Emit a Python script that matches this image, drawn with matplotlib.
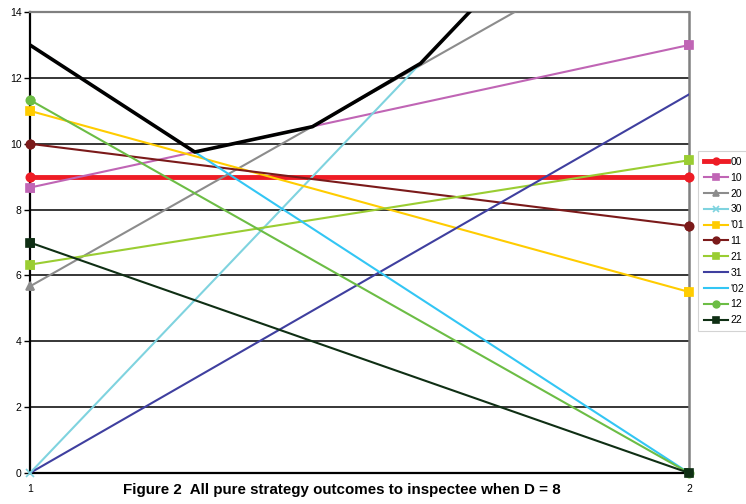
import matplotlib
matplotlib.use("Agg")
import matplotlib.pyplot as plt

plt.rcParams["font.family"] = ["Liberation Sans", "DejaVu Sans"]

# Outcome to the inspectee at the two ends of the strategy axis
X_ENDS = [1, 2]
LABELS = ["00", "10", "20", "30", "'01", "11", "21", "31", "'02", "12", "22"]
START = [9.0, 8.67, 5.67, 0.0, 11.0, 10.0, 6.33, 0.0, 13.0, 11.33, 7.0]
END = [9.0, 13.0, 17.0, 21.0, 5.5, 7.5, 9.5, 11.5, 0.0, 0.0, 0.0]

# Upper envelope (best response) vertices
ENV_X = [1.0, 1.25, 1.4286, 1.5926, 2.0]
ENV_Y = [13.0, 9.75, 10.52, 12.44, 21.0]

COLORS = ["#ee1c25", "#c065b5", "#8c8c8c", "#7fd3df", "#ffcc00", "#7b1a1a",
          "#9acd32", "#3f3f9f", "#33c6f4", "#6cbd45", "#0f2f14"]
MARKERS = ["o", "s", "^", "x", "s", "o", "s", None, None, "o", "s"]
WIDTHS = [3.5, 1.5, 1.5, 1.5, 1.5, 1.5, 1.5, 1.5, 1.5, 1.5, 1.5]

YMAX = 14

fig = plt.figure(figsize=(7.46, 5.04), dpi=100)
ax = fig.add_axes([0.0402, 0.0615, 0.8834, 0.9145])

for lab, y0, y1, c, m, w in zip(LABELS, START, END, COLORS, MARKERS, WIDTHS):
    ax.plot(X_ENDS, [y0, y1], color=c, lw=w, marker=m, markersize=6,
            markeredgewidth=1.2, label=lab, zorder=3)
    if m is None:
        continue
    # end markers sit on the frame, keep them whole
    pts = [(x, y) for x, y in zip(X_ENDS, [y0, y1]) if y <= YMAX]
    ax.plot([p[0] for p in pts], [p[1] for p in pts], ls="none", marker=m,
            markersize=6, markeredgewidth=1.2, color=c, clip_on=False, zorder=5)

ax.plot(ENV_X, ENV_Y, color="black", lw=2.6, zorder=4)

ax.set_xlim(1, 2)
ax.set_ylim(0, YMAX)
ax.set_yticks(range(0, YMAX + 1, 2))
ax.set_xticks([1, 2])
ax.tick_params(axis="y", labelsize=7.5, length=4, width=1, pad=2)
ax.tick_params(axis="x", labelsize=7.5, length=0, pad=8)

for y in range(2, YMAX, 2):
    ax.axhline(y, color="black", lw=1.1, zorder=1)
ax.spines["left"].set_linewidth(1.6)
ax.spines["bottom"].set_linewidth(1.6)
ax.spines["top"].set_color("#808080")
ax.spines["top"].set_linewidth(1.6)
ax.spines["right"].set_color("#808080")
ax.spines["right"].set_linewidth(1.8)

leg = ax.legend(loc="upper left", bbox_to_anchor=(0.936, 0.70),
                bbox_transform=fig.transFigure, frameon=True, fancybox=False,
                fontsize=7.5, handlelength=2.3, handletextpad=0.25,
                labelspacing=0.56, borderpad=0.55, borderaxespad=0,
                markerscale=0.8)
leg.get_frame().set_edgecolor("#c8c8c8")
leg.get_frame().set_linewidth(0.8)

fig.text(0.458, 0.028, "Figure 2  All pure strategy outcomes to inspectee when D = 8",
         ha="center", va="center", fontsize=10.9, fontweight="bold")

fig.savefig("out.png", dpi=100)
